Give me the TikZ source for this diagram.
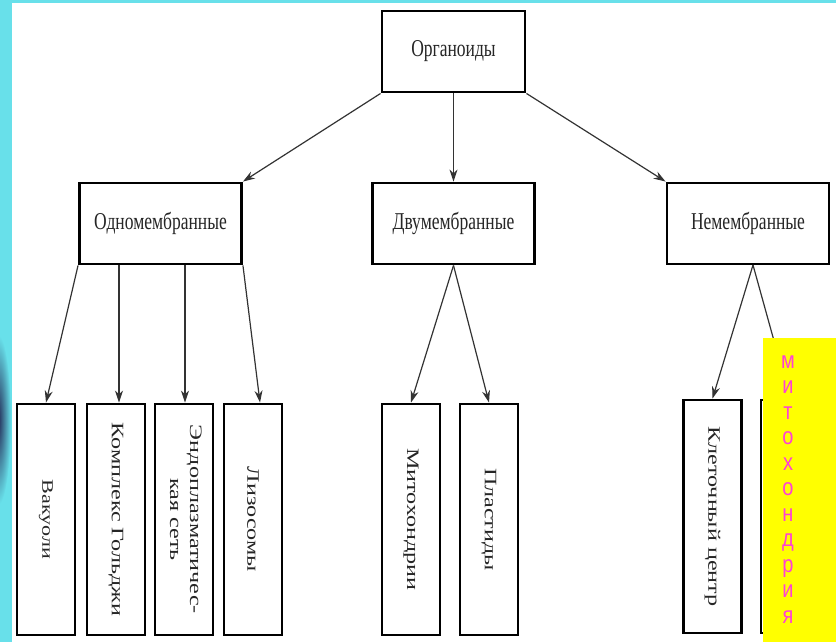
\documentclass[tikz,border=0pt]{standalone}
\usepackage{fontspec}
\setmainfont{Liberation Serif}
\newfontfamily\lettersans{Liberation Sans}
\usetikzlibrary{arrows.meta}
\definecolor{frame}{RGB}{104,224,234}
\definecolor{navy}{RGB}{34,40,85}
\definecolor{hl}{RGB}{255,255,0}
\definecolor{pinktext}{RGB}{255,64,214}
% tall lettering for horizontal labels, long lettering for vertical ones
\newcommand\tallh[1]{\scalebox{1}[1.38]{#1}}
\newcommand\longv[1]{\scalebox{1.38}[1]{#1}}
\newcommand\vlabel[1]{\rotatebox{-90}{\longv{#1}}}

\begin{document}
\begin{tikzpicture}[x=1pt,y=-1pt,
  box/.style={draw=black,line width=2.9pt,fill=white,inner sep=0pt,
    text=black!85,font=\fontsize{17.5}{20}\selectfont},
  hbox/.style={box,minimum width=162pt,minimum height=81pt},
  vbox/.style={box,minimum width=58pt,minimum height=231pt},
  link/.style={draw=black!80,line width=1.2pt,-{Stealth[length=12pt,width=8pt]}},
  letter/.style={anchor=base,inner sep=0pt,text=pinktext,
    font=\lettersans\fontsize{20}{22}\selectfont}]

% page and coloured frame
\useasboundingbox (0,0) rectangle (836,642);
\fill[white] (0,0) rectangle (836,642);
\fill[frame] (0,0) rectangle (12,642);
\fill[frame] (0,0) rectangle (836,3);
\begin{scope}
  \clip (0,300) rectangle (12,600);
  \shade[inner color=navy,outer color=frame] (-2,420) ellipse [x radius=13, y radius=85];
\end{scope}

% top level
\node[box,minimum width=143pt,minimum height=81pt] (root) at (453.5,51.5) {\tallh{Органоиды}};

% second level
\node[hbox] (one)  at (160.5,223.5) {\tallh{Одномембранные}};
\node[hbox] (two)  at (453.5,223.5) {\tallh{Двумембранные}};
\node[hbox] (none) at (748,223.5)   {\tallh{Немембранные}};

% leaves
\node[vbox] (vac)  at (46,519.5)  {\vlabel{\fontsize{16}{18}\selectfont Вакуоли}};
\node[vbox] (gol)  at (116,519.5) {\vlabel{Комплекс Гольджи}};
\node[vbox] (endo) at (184,519.5) {\vlabel{\begin{tabular}{@{}c@{}}Эндоплазматичес-\\кая сеть\end{tabular}}};
\node[vbox] (liz)  at (253,519.5) {\vlabel{Лизосомы}};
\node[vbox] (mit)  at (411,519.5) {\vlabel{Митохондрии}};
\node[vbox] (pla)  at (489,519.5) {\vlabel{Пластиды}};
\node[vbox,minimum height=233pt] (kc)  at (712.5,516.5) {\vlabel{Клеточный центр}};
\node[vbox,minimum height=233pt] (hid) at (790,516.5) {};

% connectors from the top
\draw[link] (root.south west) -- (one.north east);
\draw[link] (root.south) -- (root.south |- two.north);
\draw[link] (root.south east) -- (none.north west);

% single-membrane branch
\coordinate (oB) at (119,265);
\coordinate (oC) at (185,265);
\draw[link] (one.south west) -- (vac.north);
\draw[link] (oB) -- (oB |- gol.north);
\draw[link] (oC) -- (oC |- endo.north);
\draw[link] (one.south east) -- ([xshift=7pt]liz.north);

% double-membrane branch
\draw[link] (two.south) -- (mit.north);
\draw[link] (two.south) -- (pla.north);

% non-membrane branch
\coordinate (nA) at (753,265);
\draw[link] (nA) -- (kc.north);
\draw[link] (nA) -- (hid.north);

% yellow note laid over the last box
\fill[hl] (763,338) rectangle (836,642);
\foreach \ch [count=\i from 0] in {м,и,т,о,х,о,н,д,р,и,я}
  \node[letter] (ltr\i) at (788,368+25.5*\i) {\scalebox{1}[1.2]{\ch}};
\end{tikzpicture}
\end{document}
